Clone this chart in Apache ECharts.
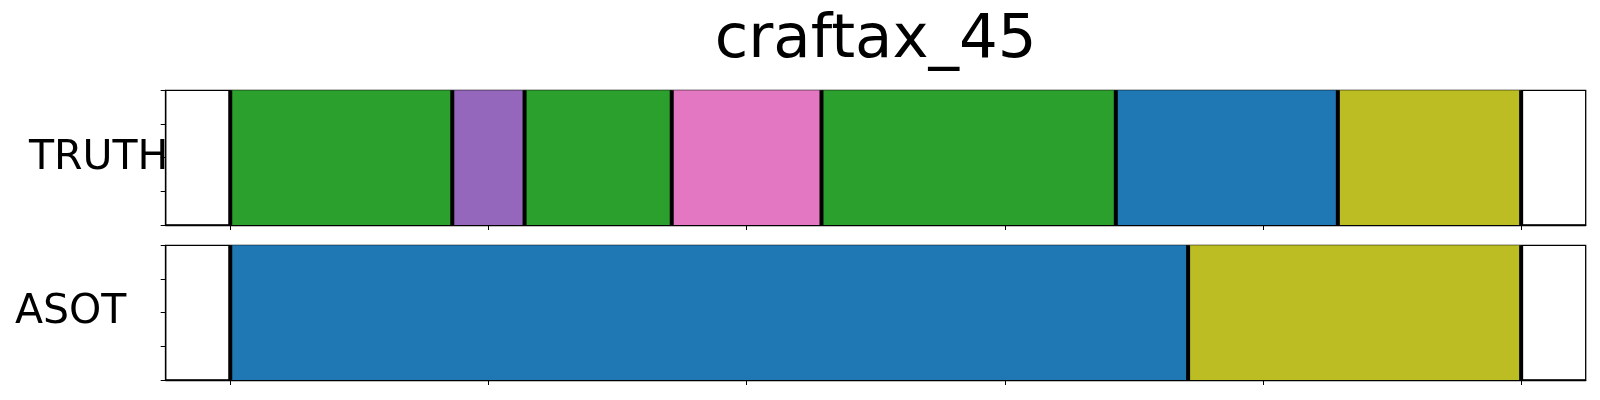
<!DOCTYPE html>
<html>
<head>
<meta charset="utf-8">
<script src="https://cdn.jsdelivr.net/npm/echarts@6/dist/echarts.min.js"></script>
<style>
html,body{margin:0;padding:0;background:#fff;}
#chart{width:1600px;height:400px;}
</style>
</head>
<body>
<div id="chart"></div>
<script>
// ---- data ----
var titleText = 'craftax_45';
var rowNames = ['TRUTH', 'ASOT'];
var truthStart = [0, 86, 114, 171, 229, 343, 429];
var truthEnd   = [86, 114, 171, 229, 343, 429, 500];
var truthClass = [2, 4, 2, 6, 2, 0, 8];
var asotStart  = [0, 371];
var asotEnd    = [371, 500];
var asotClass  = [0, 8];
var xTicks = [0, 100, 200, 300, 400, 500];
var xMin = -25, xMax = 525;
var palette = ['#1f77b4', '#ff7f0e', '#2ca02c', '#d62728', '#9467bd',
               '#8c564b', '#e377c2', '#7f7f7f', '#bcbd22', '#17becf'];

function segData(starts, ends, classes) {
  return starts.map(function (s, i) { return [s, ends[i], classes[i]]; });
}
function boundaryData(starts, ends) {
  var b = starts.slice();
  b.push(ends[ends.length - 1]);
  return b.map(function (v) { return [v]; });
}

function rectRender(params, api) {
  var p0 = api.coord([api.value(0), 1]);
  var p1 = api.coord([api.value(1), 0]);
  return {
    type: 'rect',
    shape: { x: p0[0], y: p0[1], width: p1[0] - p0[0], height: p1[1] - p0[1] },
    style: { fill: palette[api.value(2)] }
  };
}
function lineRender(params, api) {
  var p0 = api.coord([api.value(0), 1]);
  var p1 = api.coord([api.value(0), 0]);
  return {
    type: 'line',
    shape: { x1: p0[0], y1: p0[1], x2: p1[0], y2: p1[1] },
    style: { stroke: '#000', lineWidth: 4 }
  };
}

var gridLeft = 165.7, gridRight = 14.3, gridH = 134.7;
var grids = [
  { left: gridLeft, right: gridRight, top: 90.3, height: gridH },
  { left: gridLeft, right: gridRight, top: 245.3, height: gridH }
].map(function (g) {
  g.show = true; g.borderColor = '#000'; g.borderWidth = 1.3; g.backgroundColor = 'transparent';
  return g;
});

function xAxis(idx) {
  return {
    type: 'value', gridIndex: idx, min: xMin, max: xMax,
    axisLine: { show: true, onZero: false, lineStyle: { color: '#000', width: 1.3 } },
    axisTick: { show: true, inside: false, length: 5, customValues: xTicks, lineStyle: { color: '#000', width: 1 } },
    axisLabel: { show: false },
    splitLine: { show: false }
  };
}
function yAxis(idx) {
  return {
    type: 'value', gridIndex: idx, min: 0, max: 1, interval: 0.25,
    axisLine: { show: true, onZero: false, lineStyle: { color: '#000', width: 1.3 } },
    axisTick: { show: true, inside: false, length: 5, lineStyle: { color: '#000', width: 1 } },
    axisLabel: { show: false },
    splitLine: { show: false }
  };
}

var chart = echarts.init(document.getElementById('chart'), null, { renderer: 'canvas' });
chart.setOption({
  animation: false,
  backgroundColor: '#fff',
  grid: grids,
  xAxis: [xAxis(0), xAxis(1)],
  yAxis: [yAxis(0), yAxis(1)],
  series: [
    { type: 'custom', xAxisIndex: 0, yAxisIndex: 0, renderItem: rectRender,
      data: segData(truthStart, truthEnd, truthClass), z: 2 },
    { type: 'custom', xAxisIndex: 0, yAxisIndex: 0, renderItem: lineRender,
      data: boundaryData(truthStart, truthEnd), z: 3 },
    { type: 'custom', xAxisIndex: 1, yAxisIndex: 1, renderItem: rectRender,
      data: segData(asotStart, asotEnd, asotClass), z: 2 },
    { type: 'custom', xAxisIndex: 1, yAxisIndex: 1, renderItem: lineRender,
      data: boundaryData(asotStart, asotEnd), z: 3 }
  ],
  graphic: [
    { type: 'text', x: 875.7, y: 41, z: 10,
      style: { text: titleText, font: '61px "DejaVu Sans"', fill: '#000', align: 'center', verticalAlign: 'middle' } },
    { type: 'text', x: 29, y: 158, z: 10,
      style: { text: rowNames[0], font: '41px "DejaVu Sans"', fill: '#000', align: 'left', verticalAlign: 'middle' } },
    { type: 'text', x: 15, y: 312.5, z: 10,
      style: { text: rowNames[1], font: '41px "DejaVu Sans"', fill: '#000', align: 'left', verticalAlign: 'middle' } }
  ]
});
</script>
</body>
</html>
